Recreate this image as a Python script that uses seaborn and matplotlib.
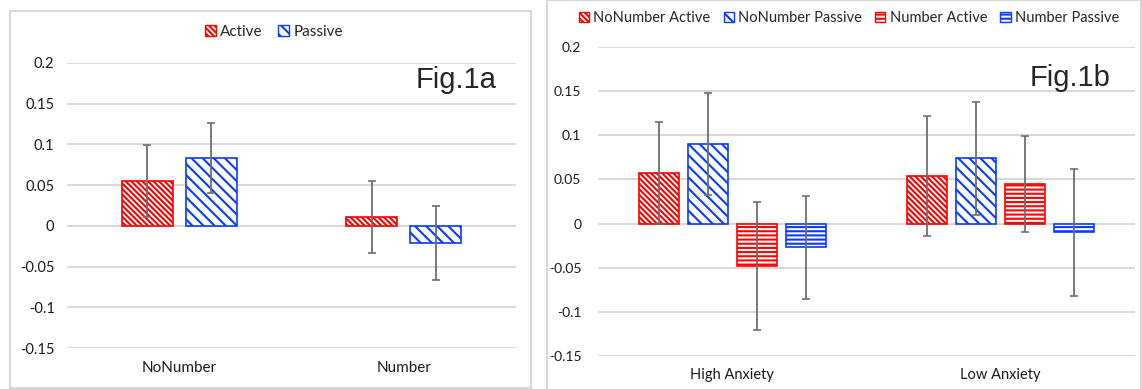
import pandas as pd
import matplotlib
matplotlib.use("Agg")
import matplotlib.pyplot as plt
import seaborn as sns
from matplotlib.patches import Patch, Rectangle

# ---- Fig.1a data ----
cond_a = ["NoNumber", "Number"]
hue_a = ["Active", "Passive"]
active_a = [0.055, 0.011]
passive_a = [0.083, -0.021]
active_a_err = [0.044, 0.044]
passive_a_err = [0.043, 0.045]

# ---- Fig.1b data ----
groups_b = ["High Anxiety", "Low Anxiety"]
hue_b = ["NoNumber Active", "NoNumber Passive", "Number Active", "Number Passive"]
nn_active_b = [0.057, 0.054]
nn_passive_b = [0.090, 0.074]
n_active_b = [-0.048, 0.045]
n_passive_b = [-0.027, -0.010]
nn_active_err = [0.058, 0.068]
nn_passive_err = [0.058, 0.064]
n_active_err = [0.072, 0.054]
n_passive_err = [0.058, 0.0715]

yticks = [-0.15, -0.1, -0.05, 0, 0.05, 0.1, 0.15, 0.2]
ytick_labels = ["-0.15", "-0.1", "-0.05", "0", "0.05", "0.1", "0.15", "0.2"]

RED = "#ff0000"
BLUE = "#0a3cff"
GRID = "#d9d9d9"
ERR = "#6e6e6e"

DENSE_DIAG = "\\" * 6
WIDE_DIAG = "\\" * 3
HORIZ = "-" * 4

sns.set_style("white")
plt.rcParams["font.family"] = ["Lato", "DejaVu Sans"]
plt.rcParams["hatch.linewidth"] = 1.5

W, H = 1142, 389
fig = plt.figure(figsize=(W / 100, H / 100), dpi=100)


def ax_rect(x0, y0, x1, y1):
    return [x0 / W, 1 - y1 / H, (x1 - x0) / W, (y1 - y0) / H]


def style_axes(ax, cats, pad_y, size):
    ax.set_ylim(-0.15, 0.2)
    ax.set_xlim(-0.5, 1.5)
    ax.set_yticks(yticks)
    ax.set_yticklabels(ytick_labels)
    ax.set_xticks(range(len(cats)))
    ax.set_xticklabels(cats)
    ax.yaxis.grid(True, color=GRID, linewidth=1.5)
    ax.set_axisbelow(True)
    ax.tick_params(axis="y", length=0, pad=pad_y, labelsize=size, colors="#1a1a1a")
    ax.tick_params(axis="x", length=0, pad=9, labelsize=size + 0.5, colors="#1a1a1a")
    ax.set_xlabel("")
    ax.set_ylabel("")
    sns.despine(ax=ax, left=True, bottom=True)


def decorate(ax, hatches, colors, errs):
    for cont, hatch, col, err in zip(ax.containers, hatches, colors, errs):
        xs, ys = [], []
        for bar in cont:
            bar.set_facecolor("white")
            bar.set_edgecolor(col)
            bar.set_hatch(hatch)
            bar.set_linewidth(1.2)
            xs.append(bar.get_x() + bar.get_width() / 2)
            ys.append(bar.get_y() + bar.get_height())
        ax.errorbar(xs, ys, yerr=err, fmt="none", ecolor=ERR,
                    elinewidth=1.3, capsize=3, capthick=1.2, zorder=5)


# ---- panel a ----
df_a = pd.DataFrame({
    "cond": cond_a * 2,
    "type": [hue_a[0]] * 2 + [hue_a[1]] * 2,
    "value": active_a + passive_a,
})
ax1 = fig.add_axes(ax_rect(67, 63, 516, 348))
sns.barplot(data=df_a, x="cond", y="value", hue="type", order=cond_a,
            hue_order=hue_a, palette=[RED, BLUE], width=0.57, gap=0.2,
            errorbar=None, legend=False, ax=ax1)
decorate(ax1, [DENSE_DIAG, WIDE_DIAG], [RED, BLUE], [active_a_err, passive_a_err])
style_axes(ax1, cond_a, 9, 10.5)

hand_a = [Patch(facecolor="white", edgecolor=RED, hatch=DENSE_DIAG, label="Active"),
          Patch(facecolor="white", edgecolor=BLUE, hatch=WIDE_DIAG, label="Passive")]
fig.legend(handles=hand_a, loc="center", bbox_to_anchor=(274 / W, 1 - 32 / H),
           ncol=2, frameon=False, handlelength=0.7, handleheight=0.7,
           handletextpad=0.3, columnspacing=1.0, fontsize=11)
fig.text(456 / W, 1 - 80 / H, "Fig.1a", fontsize=21, family="Liberation Sans",
         ha="center", va="center")

# ---- panel b ----
df_b = pd.DataFrame({
    "group": groups_b * 4,
    "series": [s for s in hue_b for _ in groups_b],
    "value": nn_active_b + nn_passive_b + n_active_b + n_passive_b,
})
ax2 = fig.add_axes(ax_rect(598, 47, 1135, 356))
sns.barplot(data=df_b, x="group", y="value", hue="series", order=groups_b,
            hue_order=hue_b, palette=[RED, BLUE, RED, BLUE], width=0.73, gap=0.18,
            errorbar=None, legend=False, ax=ax2)
decorate(ax2, [DENSE_DIAG, WIDE_DIAG, HORIZ, HORIZ], [RED, BLUE, RED, BLUE],
         [nn_active_err, nn_passive_err, n_active_err, n_passive_err])
style_axes(ax2, groups_b, 12, 10)

hand_b = [Patch(facecolor="white", edgecolor=RED, hatch=DENSE_DIAG, label=hue_b[0]),
          Patch(facecolor="white", edgecolor=BLUE, hatch=WIDE_DIAG, label=hue_b[1]),
          Patch(facecolor="white", edgecolor=RED, hatch=HORIZ, label=hue_b[2]),
          Patch(facecolor="white", edgecolor=BLUE, hatch=HORIZ, label=hue_b[3])]
fig.legend(handles=hand_b, loc="center", bbox_to_anchor=(849 / W, 1 - 18 / H),
           ncol=4, frameon=False, handlelength=0.7, handleheight=0.7,
           handletextpad=0.3, columnspacing=0.9, fontsize=10.5)
fig.text(1070 / W, 1 - 78 / H, "Fig.1b", fontsize=21, family="Liberation Sans",
         ha="center", va="center")

# ---- panel borders ----
fig.add_artist(Rectangle((10 / W, 1 - 388 / H), 521 / W, 377 / H,
                         transform=fig.transFigure, fill=False,
                         edgecolor="#d0d0d0", linewidth=1.2))
fig.add_artist(Rectangle((547 / W, 1 - 392 / H), 594 / W, 392 / H,
                         transform=fig.transFigure, fill=False,
                         edgecolor="#d0d0d0", linewidth=1.2))

fig.savefig("out.png", dpi=100, facecolor="white")
